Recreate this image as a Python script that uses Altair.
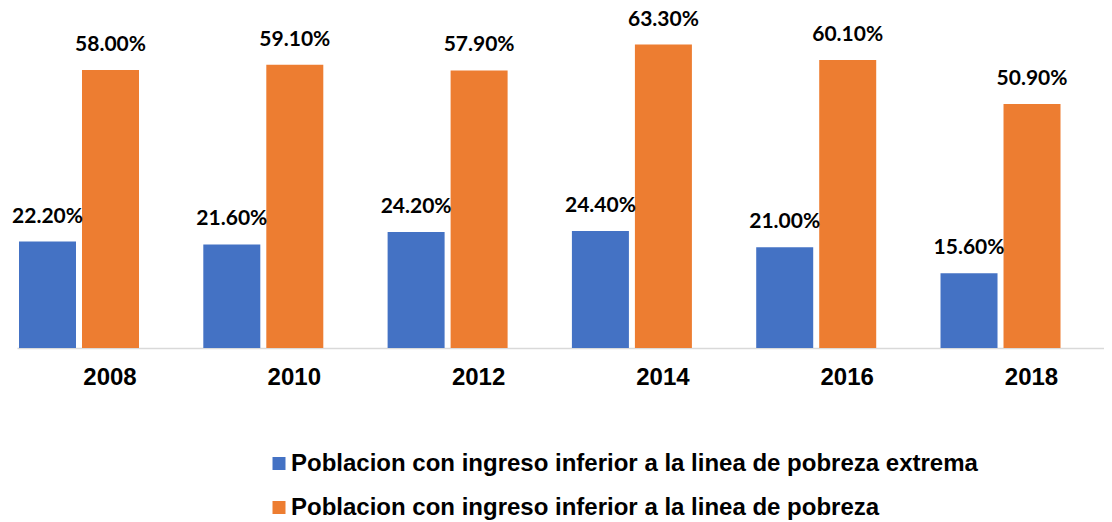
import altair as alt
import pandas as pd

years = ["2008", "2010", "2012", "2014", "2016", "2018"]
series = [
    "Poblacion con ingreso inferior a la linea de pobreza extrema",
    "Poblacion con ingreso inferior a la linea de pobreza",
]
extrema = [22.2, 21.6, 24.2, 24.4, 21.0, 15.6]
pobreza = [58.0, 59.1, 57.9, 63.3, 60.1, 50.9]
colors = ["#4472C4", "#ED7D31"]

rows = []
for i, y in enumerate(years):
    rows.append({"year": y, "serie": series[0], "value": extrema[i]})
    rows.append({"year": y, "serie": series[1], "value": pobreza[i]})
df = pd.DataFrame(rows)

x_enc = alt.X(
    "year:N",
    sort=years,
    title=None,
    scale=alt.Scale(paddingInner=0.3489, paddingOuter=0.1234, align=0.044),
    axis=alt.Axis(
        labelAngle=0,
        labelFont="Liberation Sans",
        labelFontWeight="bold",
        labelFontSize=24,
        labelColor="#000000",
        labelOffset=31,
        labelPadding=17,
        ticks=False,
        tickSize=0,
        domainColor="#D9D9D9",
        domainWidth=1.5,
        grid=False,
    ),
)
xoff = alt.XOffset(
    "serie:N",
    sort=series,
    scale=alt.Scale(domain=series, paddingInner=0.0952, paddingOuter=0),
)
y_enc = alt.Y("value:Q", scale=alt.Scale(domain=[0, 70]), axis=None)

base = alt.Chart(df)

bars = base.mark_bar().encode(
    x=x_enc,
    xOffset=xoff,
    y=y_enc,
    color=alt.Color(
        "serie:N",
        sort=series,
        scale=alt.Scale(domain=series, range=colors),
        legend=alt.Legend(
            title=None,
            orient="none",
            legendX=250,
            legendY=439,
            direction="vertical",
            symbolType="square",
            symbolSize=169,
            symbolStrokeWidth=0,
            labelFont="Liberation Sans",
            labelFontWeight="bold",
            labelFontSize=24,
            labelColor="#000000",
            labelOffset=0,
            rowPadding=20,
            labelLimit=1000,
        ),
    ),
)

labels = base.transform_calculate(
    label="format(datum.value, '.2f') + '%'"
).mark_text(
    baseline="alphabetic",
    dy=-19,
    font="Lato",
    fontWeight="bold",
    fontSize=21,
    color="#000000",
).encode(
    x=x_enc,
    xOffset=xoff,
    y=y_enc,
    text="label:N",
)

chart = (
    alt.layer(bars, labels)
    .properties(
        width=1087,
        height=335.5,
        autosize=alt.AutoSizeParams(type="none"),
        padding={"left": 9, "top": 4.5, "right": 0, "bottom": 173},
    )
    .configure_view(stroke=None)
)

chart.save("out.html", embed_options={"renderer": "svg", "actions": False})
